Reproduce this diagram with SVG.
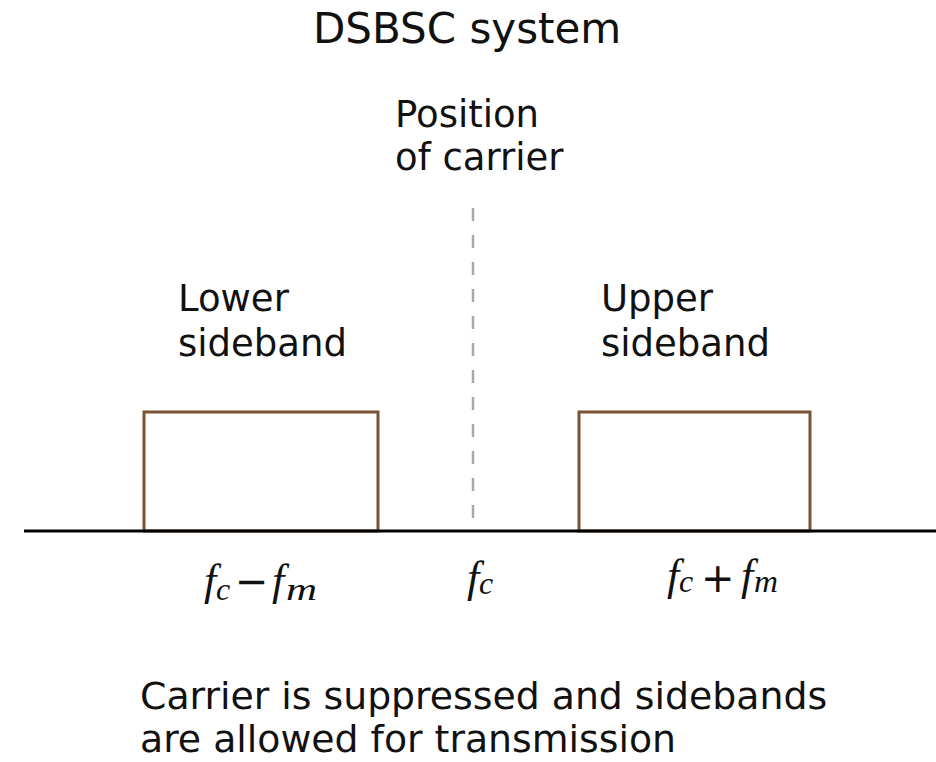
<svg xmlns="http://www.w3.org/2000/svg" width="936" height="762" viewBox="0 0 936 762">
<style>
.t{font-family:"DejaVu Sans",Verdana,sans-serif;font-size:37px;fill:#111}
.ti{font-size:42px}
.cap{font-size:37.8px}
.m{font-family:"Liberation Serif","Times New Roman",serif;font-style:italic;font-size:44px;fill:#111}
.s{font-size:32px}
.op{font-family:"DejaVu Sans",sans-serif;font-style:normal;font-size:40px;fill:#111}
.band{fill:none;stroke:#7b5330;stroke-width:3}
</style>
<rect width="936" height="762" fill="#fff"/>
<text class="t ti" x="313" y="43">DSBSC system</text>
<g id="carrier-label">
<text class="t" x="395" y="127">Position</text>
<text class="t" x="395" y="170">of carrier</text>
</g>
<g id="lower-sideband">
<text class="t" x="178" y="311">Lower</text>
<text class="t" x="178" y="356">sideband</text>
<rect class="band" x="144" y="412" width="234" height="119"/>
</g>
<g id="upper-sideband">
<text class="t" x="601" y="311">Upper</text>
<text class="t" x="601" y="356">sideband</text>
<rect class="band" x="579" y="412" width="231" height="119"/>
</g>
<g id="connectors">
<line x1="24" y1="531" x2="936" y2="531" stroke="#000" stroke-width="3"/>
<line x1="473" y1="208" x2="473" y2="530" stroke="#a8a8a8" stroke-width="2.5" stroke-dasharray="13 14"/>
</g>
<g id="freq-labels">
<text class="m" x="204" y="595">f</text><text class="m s" x="216" y="600">c</text>
<text class="op" x="235" y="595">−</text>
<text class="m" x="272" y="595">f</text><text class="m s" x="286" y="600" textLength="31" lengthAdjust="spacingAndGlyphs">m</text>
<text class="m" x="467" y="592">f</text><text class="m s" x="479" y="594">c</text>
<text class="op" x="701" y="592">+</text>
<text class="m" x="667" y="590">f</text><text class="m s" x="679" y="592">c</text>
<text class="m" x="741" y="590">f</text><text class="m s" x="754" y="592" textLength="24" lengthAdjust="spacingAndGlyphs">m</text>
</g>
<g id="caption">
<text class="t cap" x="140" y="709">Carrier is suppressed and sidebands</text>
<text class="t cap" x="140" y="752">are allowed for transmission</text>
</g>
</svg>
